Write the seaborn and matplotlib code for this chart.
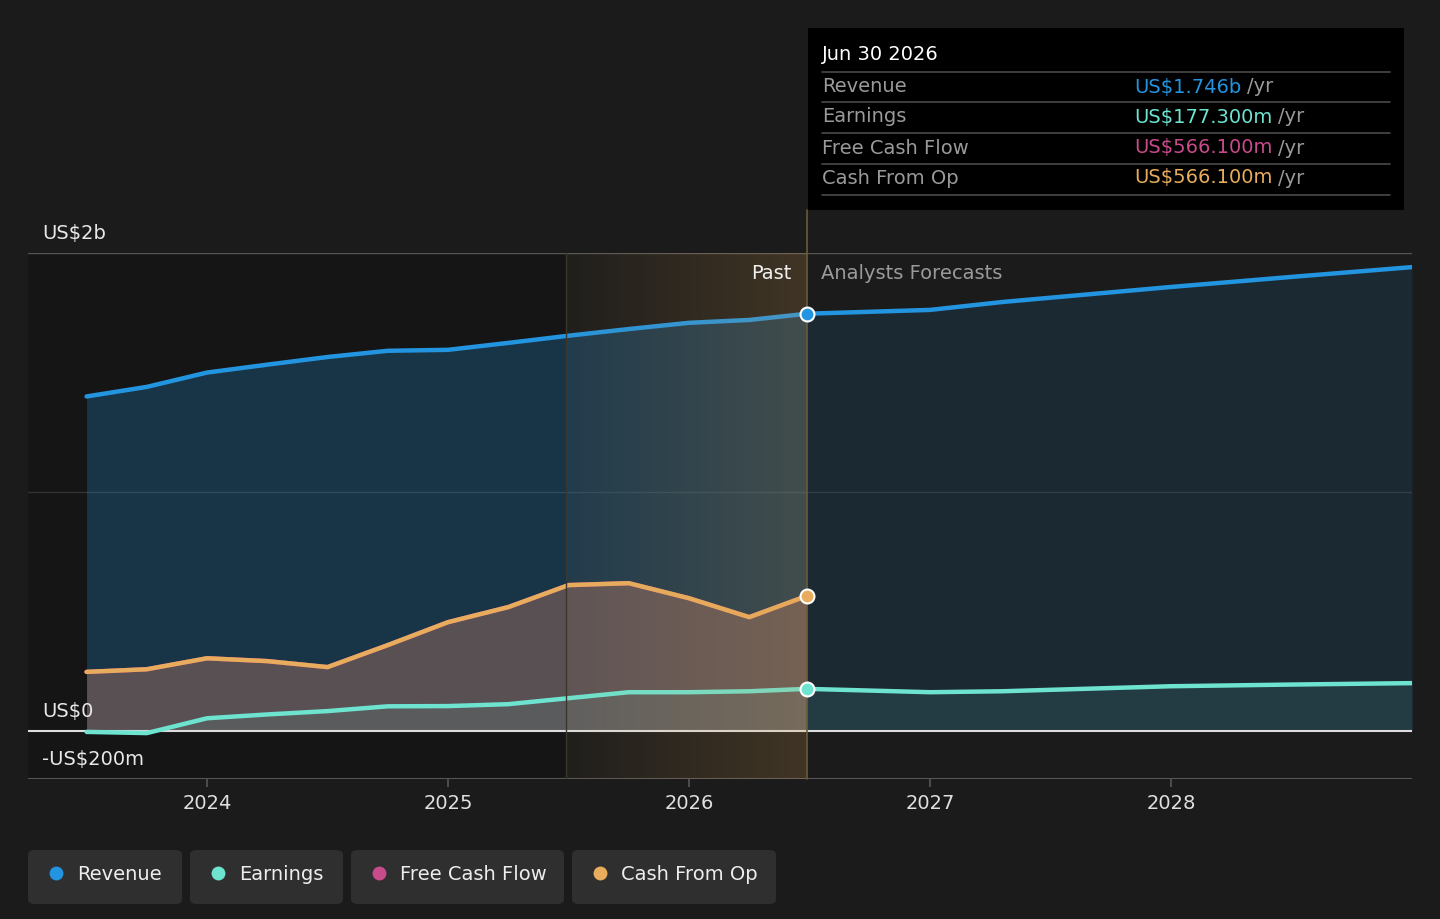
import numpy as np
import pandas as pd
import matplotlib
matplotlib.use('Agg')
import matplotlib.pyplot as plt
from matplotlib.patches import FancyBboxPatch
import seaborn as sns

# values (US$ billions), x in decimal years
past_years = [2023.5, 2023.75, 2024.0, 2024.25, 2024.5, 2024.75, 2025.0,
              2025.25, 2025.5, 2025.75, 2026.0, 2026.25, 2026.49]
revenue_past = [1.400, 1.440, 1.500, 1.533, 1.565, 1.591, 1.595,
                1.624, 1.654, 1.682, 1.708, 1.720, 1.746]
earnings_past = [-0.003, -0.008, 0.054, 0.070, 0.084, 0.104, 0.105,
                 0.113, 0.138, 0.163, 0.163, 0.167, 0.177]
cfo_past = [0.248, 0.259, 0.305, 0.293, 0.268, 0.360, 0.456,
            0.519, 0.611, 0.619, 0.556, 0.477, 0.566]
fcf_past = [0.248, 0.259, 0.305, 0.293, 0.268, 0.360, 0.456,
            0.519, 0.611, 0.619, 0.556, 0.477, 0.566]

fc_years = [2026.49, 2027.0, 2027.3, 2028.0, 2028.5, 2029.0]
revenue_fc = [1.746, 1.762, 1.795, 1.858, 1.900, 1.941]
earnings_fc = [0.177, 0.163, 0.167, 0.188, 0.195, 0.201]

year_ticks = [2024, 2025, 2026, 2027, 2028]
y_ticks = [2.0, 0.0, -0.2]
y_labels = ['US$2b', 'US$0', '-US$200m']

tip_rows = ['Revenue', 'Earnings', 'Free Cash Flow', 'Cash From Op']
tip_values = ['US$1.746b', 'US$177.300m', 'US$566.100m', 'US$566.100m']

BG = '#1b1b1b'
C_REV = '#2394df'
C_EARN = '#6de3d0'
C_FCF = '#c84b8b'
C_CFO = '#e8ac5d'
colors = [C_REV, C_EARN, C_FCF, C_CFO]

past_end = 2026.49
band_start = 2025.49
x0, x1 = 2023.257, 2029.0
FS = 14

sns.set_style('dark', {'axes.facecolor': BG, 'figure.facecolor': BG})
plt.rcParams['font.family'] = ['DejaVu Sans']

fig = plt.figure(figsize=(14.4, 9.19), dpi=100)
ax = fig.add_axes([28 / 1440, 1 - 779 / 919, 1384 / 1440, 526 / 919])
ax.set_facecolor(BG)
ax.set_xlim(x0, x1)
ax.set_ylim(-0.2, 2.0)

# dark past background
ax.axvspan(x0, band_start, color='#151515', zorder=0, lw=0)

past = pd.DataFrame({'year': past_years, 'Revenue': revenue_past,
                     'Earnings': earnings_past, 'Free Cash Flow': fcf_past,
                     'Cash From Op': cfo_past})
fc = pd.DataFrame({'year': fc_years, 'Revenue': revenue_fc, 'Earnings': earnings_fc})

# fills
ax.fill_between(past['year'], 0, past['Revenue'], color=C_REV, alpha=0.25, lw=0, zorder=1)
ax.fill_between(fc['year'], 0, fc['Revenue'], color=C_REV, alpha=0.12, lw=0, zorder=1)
ax.fill_between(past['year'], 0, past['Free Cash Flow'], color=C_FCF, alpha=0.15, lw=0, zorder=1.1)
ax.fill_between(past['year'], 0, past['Cash From Op'], color=C_CFO, alpha=0.22, lw=0, zorder=1.2)
ax.fill_between(past['year'], 0, past['Earnings'], color=C_EARN, alpha=0.08, lw=0, zorder=1.3)
ax.fill_between(fc['year'], 0, fc['Earnings'], color=C_EARN, alpha=0.10, lw=0, zorder=1.3)

# grid lines
ax.axhline(2.0, color='#555555', lw=1, zorder=1.5)
ax.axhline(1.0, color='#333333', lw=1, zorder=0.5)
ax.axhline(0.0, color='#dddddd', lw=1.5, zorder=3)
ax.axhline(-0.2, color='#555555', lw=1.5, zorder=3)

# lines
for name, col in [('Revenue', C_REV), ('Free Cash Flow', C_FCF),
                  ('Cash From Op', C_CFO), ('Earnings', C_EARN)]:
    sns.lineplot(data=past, x='year', y=name, color=col, lw=3.2, ax=ax,
                 zorder=4, solid_joinstyle='round', solid_capstyle='round')
for name, col in [('Revenue', C_REV), ('Earnings', C_EARN)]:
    sns.lineplot(data=fc, x='year', y=name, color=col, lw=3.2, ax=ax,
                 zorder=4, solid_joinstyle='round', solid_capstyle='round')

# gradient band over the last past year
grad = np.zeros((2, 256, 4))
grad[..., 0] = 0.85
grad[..., 1] = 0.62
grad[..., 2] = 0.30
grad[..., 3] = np.linspace(0.03, 0.20, 256)[None, :]
ax.imshow(grad, extent=[band_start, past_end, -0.2, 2.0], aspect='auto',
          zorder=5, interpolation='bilinear')
ax.axvline(band_start, color='#3c372c', lw=1, zorder=5)
ax.plot([past_end, past_end], [-0.2, 2.18], color='#6b5a38', lw=1.2,
        zorder=5, clip_on=False)

# end markers
for vals, col in [(revenue_past, C_REV), (cfo_past, C_CFO), (earnings_past, C_EARN)]:
    ax.plot([past_years[-1]], [vals[-1]], 'o', ms=10, mfc=col, mec='white',
            mew=1.5, zorder=7)

ax.set_xlabel('')
ax.set_ylabel('')
ax.set_xticks(year_ticks)
ax.set_xticklabels([str(y) for y in year_ticks])
ax.tick_params(axis='x', colors='#555555', labelcolor='#e0e0e0', labelsize=FS,
               length=6, width=1.2, pad=4.5, direction='out', bottom=True)
ax.set_yticks([])
for s in ax.spines.values():
    s.set_visible(False)
ax.grid(False)

for v, lab in zip(y_ticks, y_labels):
    ax.annotate(lab, xy=(0.0101, v), xycoords=('axes fraction', 'data'),
                xytext=(0, 7), textcoords='offset points', va='bottom', ha='left',
                color='#e8e8e8', fontsize=FS, zorder=8)

ax.annotate('Past', xy=(past_end, 2.0), xytext=(-11, -8), textcoords='offset points',
            ha='right', va='top', color='#f0f0f0', fontsize=FS, zorder=8)
ax.annotate('Analysts Forecasts', xy=(past_end, 2.0), xytext=(10, -8),
            textcoords='offset points', ha='left', va='top', color='#9a9a9a',
            fontsize=FS, zorder=8)

# tooltip
W, H = 1440, 919
fig.patches.append(FancyBboxPatch((808 / W, 1 - 210 / H), 596 / W, 182 / H,
                                  boxstyle='square,pad=0', transform=fig.transFigure,
                                  fc='#000000', ec='none', zorder=10))
fig.text(822 / W, 1 - 55 / H, 'Jun 30 2026', color='white', fontsize=FS,
         va='center', ha='left', zorder=11)
for yy in [72, 102, 133, 164, 195]:
    fig.add_artist(plt.Line2D([822 / W, 1390 / W], [1 - yy / H, 1 - yy / H],
                              color='#4a4a4a', lw=1.2, zorder=11))
for i, (row, val) in enumerate(zip(tip_rows, tip_values)):
    yy = 1 - [87, 117, 148, 178][i] / H
    fig.text(822 / W, yy, row, color='#9a9a9a', fontsize=FS, va='center', zorder=11)
    t = fig.text(1134 / W, yy, val, color=colors[i], fontsize=FS, va='center', zorder=11)
    fig.add_artist(plt.Annotation('/yr', xy=(1, 0.5), xycoords=t, xytext=(4, 0),
                                  textcoords='offset points', va='center', ha='left',
                                  color='#9a9a9a', fontsize=FS, zorder=11))

# legend boxes
boxes = [(28, 182, 'Revenue'), (190, 343, 'Earnings'),
         (351, 564, 'Free Cash Flow'), (572, 776, 'Cash From Op')]
for (bx0, bx1, name), col in zip(boxes, colors):
    fig.patches.append(FancyBboxPatch((bx0 / W, 1 - 904 / H), (bx1 - bx0) / W, 54 / H,
                                      boxstyle='round,pad=0,rounding_size=0.005',
                                      transform=fig.transFigure, fc='#2f2f2f',
                                      ec='none', zorder=10))
    fig.add_artist(plt.Line2D([(bx0 + 28) / W], [1 - 873 / H], marker='o', ms=10,
                              mfc=col, mec='none', lw=0, zorder=11))
    fig.text((bx0 + 49) / W, 1 - 874 / H, name, color='#eeeeee', fontsize=FS,
             va='center', ha='left', zorder=11)

fig.savefig('out.png', dpi=100, facecolor=BG)
